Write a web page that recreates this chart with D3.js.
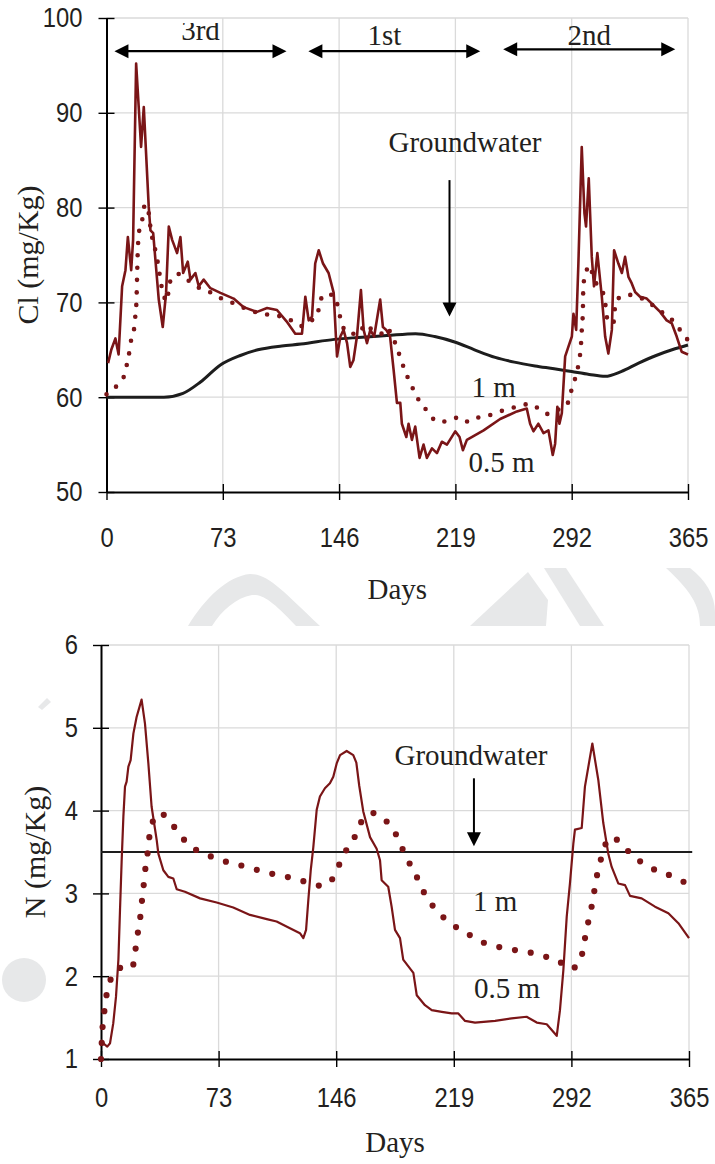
<!DOCTYPE html>
<html>
<head>
<meta charset="utf-8">
<script src="https://cdn.jsdelivr.net/npm/d3@7"></script>
<style>
  body { margin: 0; background: #ffffff; }
  svg { display: block; }
</style>
</head>
<body>
<svg id="fig" width="715" height="1164"></svg>
<script>
// ---- data -----------------------------------------------------------
const dayTicks = [0, 73, 146, 219, 292, 365];
const clTicks = [50, 60, 70, 80, 90, 100];
const nTicks = [1, 2, 3, 4, 5, 6];

// Chloride (mg/Kg): [day, value]
const clGroundwater = [[0,60],[20,60],[36,60],[48,60.4],[59,61.6],[71.5,63.4],[84,64.4],[95,65],[110,65.4],[122,65.6],[143,66.1],[158,66.3],[176,66.5],[194,66.7],[206,66.4],[219,65.8],[231,65.0],[244,64.2],[256,63.7],[269,63.3],[281,63.0],[292,62.7],[303,62.4],[313,62.2],[323,62.7],[334,63.6],[345,64.4],[355,65.0],[365,65.5]];

const clHalfMetre = [[1,63.6],[3,65],[5.6,66.2],[7.6,64.5],[9.8,71.7],[11.9,73.4],[13.4,76.9],[15.5,73.4],[16.7,76.6],[18.6,95.2],[21.7,86.4],[23.4,90.6],[26.5,80.1],[27.6,77.6],[29.3,77.3],[30.7,74.5],[32.8,70.3],[35.3,67.4],[37.4,71],[39.1,78],[41.2,76.6],[44.3,75.2],[46.4,76.9],[48.1,73.1],[51,74.3],[52.7,72.4],[55.8,73.1],[57.9,71.7],[61,72.4],[65.2,71.5],[71.5,71.0],[79.8,70.4],[86.1,69.5],[94.5,69.0],[100.8,69.4],[107,69.2],[113,68],[118.5,66.7],[122.7,66.7],[124.8,70.6],[126.9,68.1],[129,68.5],[131,74.1],[133.2,75.5],[135.9,74.1],[139.4,73.1],[142.6,71.0],[144,66.4],[144.7,64.3],[146.8,66.4],[148.8,67.1],[151,65.7],[153,63.2],[155,63.9],[157.2,66.4],[159.7,71.3],[161.4,67.1],[163.5,65.7],[165.6,67.1],[168,66.4],[171.8,70.3],[173.5,67.4],[175.6,67.1],[178,66.4],[180.2,62.9],[182.3,59.4],[184.4,59.4],[185.4,57.2],[188.2,55.8],[189.6,57.2],[191.7,55.5],[193.8,56.9],[196.5,53.6],[199,55.0],[201.1,53.6],[204.3,54.6],[207.4,54.1],[210.5,55.3],[213.7,55.0],[218.9,56.4],[221.6,55.8],[223.7,54.4],[226.2,55.5],[236.7,56.5],[247.1,57.7],[257.6,58.5],[263.8,58.8],[265.9,57.2],[268,56.4],[271.1,57.2],[274.3,56.2],[277.4,56.5],[280.1,53.9],[281.6,55.1],[283,59.0],[284.3,57.2],[285.8,58.3],[287.9,64.3],[289.9,65.3],[292.1,66.4],[293.1,68.8],[294.8,67.1],[296.2,74.1],[298.3,86.4],[300,79.4],[301,78.0],[302.7,83.1],[304.6,74.8],[306,71.7],[308.1,75.2],[310.9,70.6],[313,66.4],[315,64.6],[317.2,67.1],[318.6,75.5],[321.3,74.1],[323.5,73.1],[325.5,74.8],[327.6,72.7],[329.7,72.0],[331.8,71.1],[334.9,70.6],[339.1,70.4],[343.3,69.7],[347.5,69.0],[351.6,68.1],[354.8,67.8],[357.9,66.4],[361,64.8],[365,64.5]];

const clOneMetre = [[0,60.3],[4,60.8],[8.4,61.6],[11.9,62.6],[13,63.7],[14.6,65],[15.7,66.3],[17.6,67.5],[18.2,68.8],[18.8,70.1],[19.2,72.7],[19.6,75.3],[20,76.7],[20.9,77.9],[22.8,79],[24,80.3],[25.9,80],[27,78.7],[28,77.4],[29.7,76.2],[31.4,74.9],[32.8,73.6],[33.9,72.3],[35.5,71],[38,70.1],[39,71.3],[40.8,72.6],[46,73],[49,72.6],[54,72],[58.5,71.5],[64.8,71.1],[71,70.5],[77.3,70.1],[83.6,69.6],[90.3,69.2],[96.6,68.8],[102.8,68.7],[109.8,68.5],[116,68.1],[122.3,67.5],[127.5,68],[132,68.5],[133.6,69.6],[135.9,70.8],[142,70.8],[144.7,69.9],[146.3,68.7],[148.4,67.4],[153,66.7],[158.9,66.7],[162,67.7],[166.2,67.2],[172.5,66.7],[175.6,67.3],[179,66.6],[182.3,65.2],[185,63.9],[187.5,62.7],[190.7,61.5],[195.3,59.9],[201,58.6],[208,57.4],[214.7,57.5],[221.6,57.9],[227.3,57.4],[234,57.9],[240.4,58.1],[247,58.5],[253.4,58.8],[259.6,59.1],[266,59.3],[272,58.7],[278,58.2],[283.7,58.7],[289,59.2],[291.6,60.6],[293.5,61.6],[295.6,62.9],[296.8,64],[297.7,65.2],[298.3,67],[299,69],[299.3,71.7],[300.8,73.1],[303.5,73.9],[305.6,72.5],[310.9,71.3],[313,70.1],[313.6,68.9],[315.7,67.8],[318.2,67.8],[318.8,68.9],[320.3,70.3],[327.6,70.8],[333.9,70.6],[340.1,70],[345.4,69.4],[350.6,68.7],[355.4,68.1],[360,67.1],[365,66]];

// Nitrogen (mg/Kg): [day, value]
const nGroundwater = [[0,3.5],[73,3.5],[146,3.5],[219,3.5],[292,3.5],[367,3.5]];

const nHalfMetre = [[0,1.23],[2,1.18],[3.9,1.15],[5.6,1.19],[7.6,1.43],[9.3,1.75],[10.8,2.2],[11.8,2.8],[12.8,3.38],[13.9,3.93],[14.9,4.29],[15.9,4.35],[17,4.53],[18.4,4.61],[20.1,4.93],[22.1,5.13],[25.2,5.34],[27.3,5.05],[29.4,4.57],[31.4,4.05],[34.6,3.64],[35.6,3.48],[38.7,3.28],[41.8,3.2],[44.9,3.18],[47,3.05],[52.1,3.02],[61.5,2.94],[71.8,2.89],[82.1,2.83],[92.5,2.74],[102.9,2.69],[109,2.66],[117.3,2.58],[123.5,2.52],[125.6,2.46],[127.3,2.56],[128.7,2.92],[130.2,3.28],[131.8,3.56],[133.9,4.01],[135.9,4.17],[139,4.27],[142.1,4.33],[144.2,4.41],[146.3,4.57],[148.4,4.67],[152.5,4.72],[156.6,4.67],[158.5,4.58],[160.3,4.3],[162.8,3.99],[167,3.68],[171.1,3.54],[173.2,3.40],[174.2,3.16],[178.3,3.08],[180.4,2.84],[182.5,2.56],[185.6,2.46],[187.6,2.2],[193.9,2.04],[196,1.77],[201.1,1.65],[205.3,1.59],[211.5,1.57],[217.7,1.55],[221.8,1.55],[226,1.46],[232.2,1.44],[244.6,1.46],[254.9,1.49],[264.2,1.51],[270.5,1.44],[276.7,1.42],[279.8,1.35],[282.9,1.28],[284.9,1.59],[287,2.07],[289.1,2.72],[291.1,3.12],[293.2,3.6],[294.2,3.77],[298.4,3.79],[300.4,4.29],[305,4.81],[308.7,4.37],[311.8,3.85],[314.9,3.48],[317,3.32],[321.1,3.12],[325.3,3.1],[328.4,2.97],[335.6,2.94],[343.9,2.84],[352.2,2.76],[358.4,2.64],[365,2.46]];

const nOneMetre = [[0,1.0],[1,1.39],[2.1,1.58],[3.5,1.78],[6.2,1.97],[11.8,2.1],[19.4,2.1],[21.1,2.28],[22.5,2.48],[24.2,2.68],[25.2,2.87],[26.3,3.06],[27.3,3.26],[28.7,3.45],[29.8,3.65],[31.8,3.85],[36.6,3.97],[43.5,3.85],[49,3.71],[54.8,3.58],[62.9,3.49],[71.8,3.42],[81.7,3.36],[91,3.32],[100.8,3.26],[110.5,3.22],[119.8,3.18],[128.7,3.13],[137.4,3.09],[144.2,3.19],[148.4,3.37],[152.5,3.53],[157.7,3.69],[161.8,3.87],[169,3.97],[176.7,3.88],[182.1,3.75],[186.6,3.56],[190.8,3.39],[195.5,3.22],[199.7,3.04],[204.8,2.88],[211,2.74],[219.1,2.61],[227,2.52],[235.7,2.42],[245.6,2.36],[255.6,2.32],[265.3,2.29],[275.2,2.24],[283.5,2.19],[291.5,2.09],[297.5,2.18],[299.6,2.37],[301.5,2.57],[303.7,2.76],[305.6,2.95],[307.1,3.14],[309.3,3.33],[312,3.53],[316.4,3.68],[324.2,3.58],[330,3.45],[337.1,3.36],[345.3,3.27],[354.3,3.21],[363.1,3.13],[365,3.12]];

// Irrigation periods shown above the chloride curves: [label, startDay, endDay]
const periods = [["3rd", 5, 113], ["1st", 126.7, 234.6], ["2nd", 249, 357]];

// ---- drawing --------------------------------------------------------
const svg = d3.select("#fig");
const RED = "#7a1517";
const GRID = "#dadada";
const TXT = "#231f20";
const SANS = "'Liberation Sans', Arial, sans-serif";
const SERIF = "'Liberation Serif', 'Times New Roman', serif";

// faint background marks
const wm = svg.append("g").attr("fill", "#e7e8e9");
wm.append("circle").attr("cx", 24).attr("cy", 980).attr("r", 22);
wm.append("path").attr("d", "M38,707 L47,698 L51,702 L42,710 Z");
wm.append("path").attr("d", "M188,626 C205,598 228,576 250,574 C268,574 282,590 320,626 L296,626 C272,600 262,594 252,595 C236,598 222,610 212,626 Z");
wm.append("path").attr("d", "M470,626 L528,572 L548,600 L546,626 Z");
wm.append("path").attr("d", "M544,568 L566,568 L604,626 L580,626 Z");
wm.append("path").attr("d", "M666,568 L690,568 C706,580 715,596 715,612 L715,626 L700,626 C700,605 690,590 666,568 Z");

function condense(sel, k) {
  sel.each(function () {
    const w = this.getComputedTextLength();
    this.setAttribute("textLength", w * k);
    this.setAttribute("lengthAdjust", "spacingAndGlyphs");
  });
}

function panel(opts) {
  const x = d3.scaleLinear().domain([0, 365]).range([opts.left, opts.right]);
  const y = d3.scaleLinear().domain(opts.yDomain).range([opts.bottom, opts.top]);
  const g = svg.append("g");

  // grid
  g.append("g").selectAll("line").data(opts.yTicks.slice(1)).join("line")
    .attr("x1", x(0)).attr("x2", x(365)).attr("y1", d => y(d)).attr("y2", d => y(d))
    .attr("stroke", GRID).attr("stroke-width", 1.3);
  g.append("g").selectAll("line").data(dayTicks.slice(1)).join("line")
    .attr("x1", d => x(d)).attr("x2", d => x(d)).attr("y1", y(opts.yDomain[0])).attr("y2", y(opts.yDomain[1]))
    .attr("stroke", GRID).attr("stroke-width", 1.3);

  // axes
  const ya = g.append("g").attr("transform", `translate(${x(0)},0)`)
    .call(d3.axisLeft(y).tickValues(opts.yTicks).tickFormat(d3.format("d"))
      .tickSizeInner(8).tickSizeOuter(0).tickPadding(opts.yPad));
  ya.selectAll(".tick line").attr("x1", 8);
  const xa = g.append("g").attr("transform", `translate(0,${y(opts.yDomain[0])})`)
    .call(d3.axisBottom(x).tickValues(dayTicks).tickFormat(d3.format("d"))
      .tickSizeInner(8).tickSizeOuter(0).tickPadding(opts.xPad));
  xa.selectAll(".tick line").attr("y1", -8);
  [ya, xa].forEach(a => {
    a.select(".domain").attr("stroke", "#000").attr("stroke-width", 2);
    a.selectAll(".tick line").attr("stroke", "#000").attr("stroke-width", 1.4);
    a.selectAll("text").attr("font-family", SANS).attr("font-size", 28).attr("fill", TXT);
    condense(a.selectAll("text"), 0.85);
  });

  const line = d3.line().x(d => x(d[0])).y(d => y(d[1]));

  // groundwater
  g.append("path").datum(opts.gw).attr("d", line.curve(d3.curveMonotoneX))
    .attr("fill", "none").attr("stroke", "#1d1d1d").attr("stroke-width", opts.gwWidth)
    .attr("stroke-linejoin", "round");
  // 1 m depth (dotted)
  g.append("path").datum(opts.one).attr("d", line.curve(d3.curveMonotoneX))
    .attr("fill", "none").attr("stroke", RED).attr("stroke-width", opts.dot)
    .attr("stroke-linecap", "round").attr("stroke-dasharray", `0 ${opts.dotGap}`);
  line.curve(d3.curveLinear);
  // 0.5 m depth
  g.append("path").datum(opts.half).attr("d", line)
    .attr("fill", "none").attr("stroke", RED).attr("stroke-width", opts.halfWidth)
    .attr("stroke-linejoin", "round");

  // axis titles
  g.append("text").attr("transform", `translate(${opts.yTitleX},${(opts.top + opts.bottom) / 2}) rotate(-90)`)
    .attr("text-anchor", "middle").attr("font-family", SERIF).attr("font-size", 30).attr("fill", TXT)
    .text(opts.yTitle);
  g.append("text").attr("x", (opts.left + opts.right) / 2).attr("y", opts.xTitleY)
    .attr("text-anchor", "middle").attr("font-family", SERIF).attr("font-size", 29).attr("fill", TXT)
    .text("Days");

  // annotations
  const lab = (t, d, v) => g.append("text").attr("x", x(d)).attr("y", y(v))
    .attr("text-anchor", "middle").attr("font-family", SERIF).attr("font-size", 29).attr("fill", TXT).text(t);
  lab("Groundwater", opts.gwLabel[0], opts.gwLabel[1]);
  lab("1 m", opts.oneLabel[0], opts.oneLabel[1]);
  lab("0.5 m", opts.halfLabel[0], opts.halfLabel[1]);

  // downward arrow to the groundwater curve
  const ax = x(opts.gwArrow[0]), ay0 = y(opts.gwArrow[1]), ay1 = y(opts.gwArrow[2]);
  g.append("line").attr("x1", ax).attr("x2", ax).attr("y1", ay0).attr("y2", ay1 - 12)
    .attr("stroke", "#000").attr("stroke-width", 2);
  g.append("path").attr("d", `M${ax - 7},${ay1 - 14} L${ax + 7},${ay1 - 14} L${ax},${ay1} Z`).attr("fill", "#000");

  return { x, y, g };
}

// Chloride panel
const cl = panel({
  left: 106.5, right: 688, top: 18, bottom: 492,
  yDomain: [50, 100], yTicks: clTicks, yPad: 16, xPad: 27,
  gw: clGroundwater, half: clHalfMetre, one: clOneMetre,
  gwWidth: 3, halfWidth: 2.6, dot: 4.6, dotGap: 12.3,
  yTitle: "Cl (mg/Kg)", yTitleX: 38, xTitleY: 599,
  gwLabel: [225, 85.9], oneLabel: [243, 60.05], halfLabel: [248, 52.1],
  gwArrow: [215.3, 82.9, 68.5]
});

// period arrows on the chloride panel
{
  const { x, y, g } = cl;
  const clip = svg.append("clipPath").attr("id", "topclip");
  clip.append("rect").attr("x", 0).attr("y", 23).attr("width", 715).attr("height", 60);
  const pg = g.append("g");
  const labs = g.append("g").attr("clip-path", "url(#topclip)");
  const ys = [96.5, 96.5, 96.7];
  const ty = [97.68, 97.2, 97.2];
  periods.forEach((p, i) => {
    const x0 = x(p[1]), x1 = x(p[2]), yy = y(ys[i]);
    pg.append("line").attr("x1", x0 + 10).attr("x2", x1 - 10).attr("y1", yy).attr("y2", yy)
      .attr("stroke", "#000").attr("stroke-width", 2.2);
    pg.append("path").attr("d", `M${x0},${yy} L${x0 + 14},${yy - 7} L${x0 + 14},${yy + 7} Z`).attr("fill", "#000");
    pg.append("path").attr("d", `M${x1},${yy} L${x1 - 14},${yy - 7} L${x1 - 14},${yy + 7} Z`).attr("fill", "#000");
    labs.append("text").attr("x", x((p[1] + p[2]) / 2) + (i === 1 ? -10 : 0)).attr("y", y(ty[i]))
      .attr("text-anchor", "middle").attr("font-family", SERIF).attr("font-size", 29).attr("fill", TXT).text(p[0]);
  });
}

// Nitrogen panel
panel({
  left: 101, right: 689, top: 645, bottom: 1059,
  yDomain: [1, 6], yTicks: nTicks, yPad: 15, xPad: 20,
  gw: nGroundwater, half: nHalfMetre, one: nOneMetre,
  gwWidth: 2.2, halfWidth: 2.2, dot: 6.2, dotGap: 16,
  yTitle: "N (mg/Kg)", yTitleX: 45, xTitleY: 1152,
  gwLabel: [229.7, 4.55], oneLabel: [244.6, 2.79], halfLabel: [252, 1.74],
  gwArrow: [231.5, 4.39, 3.57]
});
</script>
</body>
</html>
